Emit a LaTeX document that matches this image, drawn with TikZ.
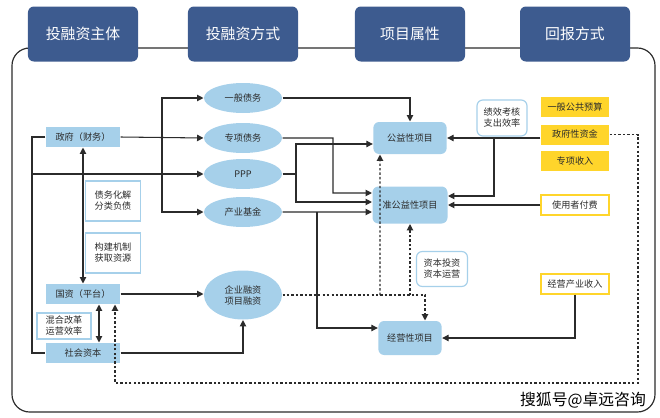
\documentclass[tikz,border=0pt]{standalone}
\usepackage{fontspec}
\setmainfont{Noto Sans CJK SC}
\usetikzlibrary{shapes.geometric,arrows.meta}

\definecolor{headblue}{HTML}{3D5B8F}
\definecolor{lblue}{HTML}{A6D0EA}
\definecolor{gold}{HTML}{FFD52B}
\definecolor{linegray}{HTML}{2B2B2B}

\tikzset{
  head/.style={fill=headblue, rounded corners=5pt, text=white, inner sep=0pt,
    minimum width=3.3cm, minimum height=1.65cm, font=\fontsize{12.7}{14}\selectfont},
  subj/.style={fill=lblue, inner sep=0pt, minimum width=2.22cm, minimum height=0.6cm},
  note/.style={draw=lblue, line width=1pt, fill=white, align=center, inner sep=0pt,
    minimum width=1.65cm, minimum height=1.2cm},
  way/.style={ellipse, fill=lblue, align=center, inner sep=0pt,
    minimum width=2.34cm, minimum height=0.9cm},
  proj/.style={fill=lblue, rounded corners=5pt, inner sep=0pt,
    minimum width=2.2cm, minimum height=0.96cm},
  pay/.style={fill=gold, inner sep=0pt, minimum width=2.04cm, minimum height=0.6cm},
  payw/.style={pay, fill=white, draw=gold, line width=1pt},
  arr/.style={-{Triangle[length=5.5pt,width=5.5pt]}},
  arrs/.style={{Triangle[length=5.5pt,width=5.5pt]}-{Triangle[length=5.5pt,width=5.5pt]}},
  dots/.style={line width=1pt, dash pattern=on 2pt off 1.8pt}
}

\begin{document}
\begin{tikzpicture}[x=0.03cm, y=-0.03cm, color=linegray, line width=0.9pt,
    font=\fontsize{7.8}{9.4}\selectfont]
    \useasboundingbox (0,0) rectangle (660,418);
    % Moldura
    \draw[line width=1pt, rounded corners=15pt] (12,48) rectangle (655,412);
    % Cabeçalhos
    \node[head] (h1) at (83,34) {投融资主体};
    \node[head] (h2) at (243,34) {投融资方式};
    \node[head] (h3) at (410,34) {项目属性};
    \node[head] (h4) at (575,34) {回报方式};
    % Sujeitos
    \node[subj] (gov) at (83,137) {政府（财务）};
    \node[subj] (soe) at (83,294) {国资（平台）};
    \node[subj] (cap) at (83,353) {社会资本};
    \node[note] (debt) at (113,201) {债务化解\\分类负债};
    \node[note] (mech) at (113,253) {构建机制\\获取资源};
    \node[note, minimum width=1.62cm, minimum height=0.78cm] (mix) at (64,326) {混合改革\\运营效率};
    % Modos de financiamento
    \node[way] (gen) at (243,98) {一般债务};
    \node[way] (spec) at (243,138) {专项债务};
    \node[way] (ppp) at (243,174) {PPP};
    \node[way] (fund) at (243,212) {产业基金};
    \node[way, minimum height=1.47cm] (ent) at (243,295) {企业融资\\项目融资};
    % Projetos
    \node[proj] (pub) at (410,138) {公益性项目};
    \node[proj, minimum width=2.25cm, minimum height=1.11cm] (semi) at (410,205) {准公益性项目};
    \node[proj, minimum width=1.9cm, minimum height=1.02cm] (oper) at (410,338) {经营性项目};
    \node[note, rounded corners=5pt, minimum width=1.53cm, minimum height=1.05cm] (capop) at (442,269) {资本投资\\资本运营};
    % Retorno
    \node[note, rounded corners=5pt, minimum width=1.5cm, minimum height=1.08cm] (perf) at (502,118) {绩效考核\\支出效率};
    \node[pay] (budget) at (575,107) {一般公共预算};
    \node[pay] (govfund) at (575,134.5) {政府性资金};
    \node[pay] (income) at (575,161) {专项收入};
    \node[payw] (user) at (575,205) {使用者付费};
    \node[payw] (bizinc) at (575,284) {经营产业收入};
    % Pontos de ramificação
    \coordinate (jppp) at (32,174);
    \coordinate (jgov) at (162,137);
    \coordinate (jmid) at (296,174);
    \coordinate (jfund) at (317,212);
    \coordinate (jperf) at (494,138);
    \coordinate (jdot1) at (380,295);
    \coordinate (jdot2) at (410,295);
    % Ligações dos sujeitos
    \draw (gov.west) -- (32,137) |- (cap.west);
    \draw[arr] (jppp) -- (ppp.west);
    \draw[arr] (gov.east) -- (spec.west);
    \draw[arr] (jgov) |- (gen.west);
    \draw[arr] (jgov) |- (fund.west);
    \draw[arrs] (gov.south) -- (soe.north);
    \draw[arrs] ([xshift=0.48cm]soe.south) -- ([xshift=0.48cm]cap.north);
    \draw[arr] (soe.east) -- (soe.east -| ent.west);
    \draw[arr] (cap.east) -| (ent.south);
    % Ligações para os projetos
    \draw[arr] (gen.east) -| (pub.north);
    \draw[arr] (spec.east) -| (333,193) -- ([yshift=0.36cm]semi.west);
    \draw[arr] (ppp.east) -- (jmid) |- ([yshift=-0.18cm]pub.west);
    \draw[arr] (jmid) |- ([yshift=0.09cm]semi.west);
    \draw[arr] (fund.east) -- ([yshift=-0.21cm]semi.west);
    \draw[arr] (jfund) |- ([yshift=0.3cm]oper.west);
    \draw[dots,arr] (ent.east) -| ([xshift=0.45cm]oper.north);
    \draw[dots,arr] (jdot1) -- ([xshift=-0.9cm]pub.south);
    \draw[dots,arr] (jdot2) -- (semi.south);
    % Ligações de retorno
    \draw[arr] (govfund.west |- pub.east) -- (pub.east);
    \draw[arr] (jperf) |- ([yshift=0.27cm]semi.east);
    \draw[arr] (user.west) -- (semi.east);
    \draw[arr] (bizinc.south) |- (oper.east);
    \draw[dots,arr] (govfund.east) -| (638,383) -| ([xshift=0.96cm]soe.south);
    % Marca
    \node[text=black] (mark) at (583,400) {\fontsize{13.5}{15}\selectfont 搜狐号@卓远咨询};
\end{tikzpicture}
\end{document}
